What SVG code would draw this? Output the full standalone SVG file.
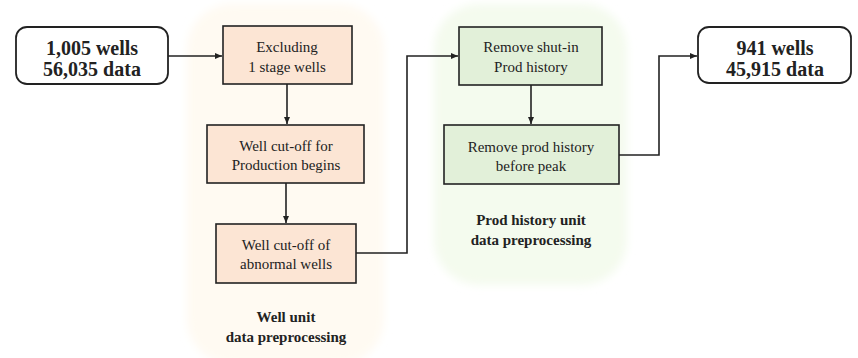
<svg xmlns="http://www.w3.org/2000/svg" width="858" height="358" viewBox="0 0 858 358" font-family="Liberation Serif, Times New Roman, Times, serif">
  <style>
    text { fill: #222; text-anchor: middle; }
    .big { font-size: 20px; font-weight: bold; }
    .box { font-size: 15px; }
    .lab { font-size: 15px; font-weight: bold; }
    .peach { fill: #fce5d4; stroke: #222; stroke-width: 1.6; }
    .green { fill: #e2f0d9; stroke: #222; stroke-width: 1.6; }
    .term { fill: #fff; stroke: #222; stroke-width: 1.8; }
    .conn { fill: none; stroke: #222; stroke-width: 1.6; }
  </style>
  <defs>
    <marker id="arr" markerWidth="8" markerHeight="8" refX="7" refY="4" orient="auto" markerUnits="userSpaceOnUse">
      <path d="M0,1 L7,4 L0,7 Z" fill="#222"/>
    </marker>
    <filter id="soft" x="-10%" y="-10%" width="120%" height="120%">
      <feGaussianBlur stdDeviation="4"/>
    </filter>
  </defs>
  <rect width="858" height="358" fill="#fff"/>
  <g id="regions">
    <rect x="187" y="4" width="197" height="360" rx="45" fill="#fffaf2" filter="url(#soft)"/>
    <rect x="434" y="4" width="193" height="281" rx="45" fill="#f4fbee" filter="url(#soft)"/>
  </g>
  <g id="connectors">
    <line class="conn" x1="168" y1="56" x2="222" y2="56" marker-end="url(#arr)"/>
    <line class="conn" x1="287" y1="84" x2="287" y2="124" marker-end="url(#arr)"/>
    <line class="conn" x1="286" y1="183" x2="286" y2="223" marker-end="url(#arr)"/>
    <polyline class="conn" points="356,253 407,253 407,56 458,56" marker-end="url(#arr)"/>
    <line class="conn" x1="531" y1="85" x2="531" y2="124" marker-end="url(#arr)"/>
    <polyline class="conn" points="619,155 659,155 659,56 697,56" marker-end="url(#arr)"/>
  </g>
  <g id="n-start">
    <rect class="term" x="16" y="27" width="152" height="57" rx="11"/>
    <text class="big" x="92" y="55">1,005 wells</text>
    <text class="big" x="92" y="76">56,035 data</text>
  </g>
  <g id="n-excluding">
    <rect class="peach" x="223" y="26" width="129" height="58"/>
    <text class="box" x="287" y="52">Excluding</text>
    <text class="box" x="287" y="72">1 stage wells</text>
  </g>
  <g id="n-prodbegins">
    <rect class="peach" x="207" y="125" width="157" height="58"/>
    <text class="box" x="286" y="151">Well cut-off for</text>
    <text class="box" x="286" y="170">Production begins</text>
  </g>
  <g id="n-abnormal">
    <rect class="peach" x="216" y="224" width="140" height="59"/>
    <text class="box" x="286" y="250">Well cut-off of</text>
    <text class="box" x="286" y="269">abnormal wells</text>
  </g>
  <g id="n-shutin">
    <rect class="green" x="459" y="27" width="143" height="58"/>
    <text class="box" x="531" y="52">Remove shut-in</text>
    <text class="box" x="531" y="72">Prod history</text>
  </g>
  <g id="n-peak">
    <rect class="green" x="444" y="125" width="175" height="59"/>
    <text class="box" x="531" y="152">Remove prod history</text>
    <text class="box" x="531" y="171">before peak</text>
  </g>
  <g id="n-end">
    <rect class="term" x="698" y="27" width="153" height="56" rx="11"/>
    <text class="big" x="775" y="55">941 wells</text>
    <text class="big" x="775" y="76">45,915 data</text>
  </g>
  <g id="labels">
    <text class="lab" x="286" y="322">Well unit</text>
    <text class="lab" x="286" y="342">data preprocessing</text>
    <text class="lab" x="531" y="225">Prod history unit</text>
    <text class="lab" x="531" y="245">data preprocessing</text>
  </g>
</svg>
